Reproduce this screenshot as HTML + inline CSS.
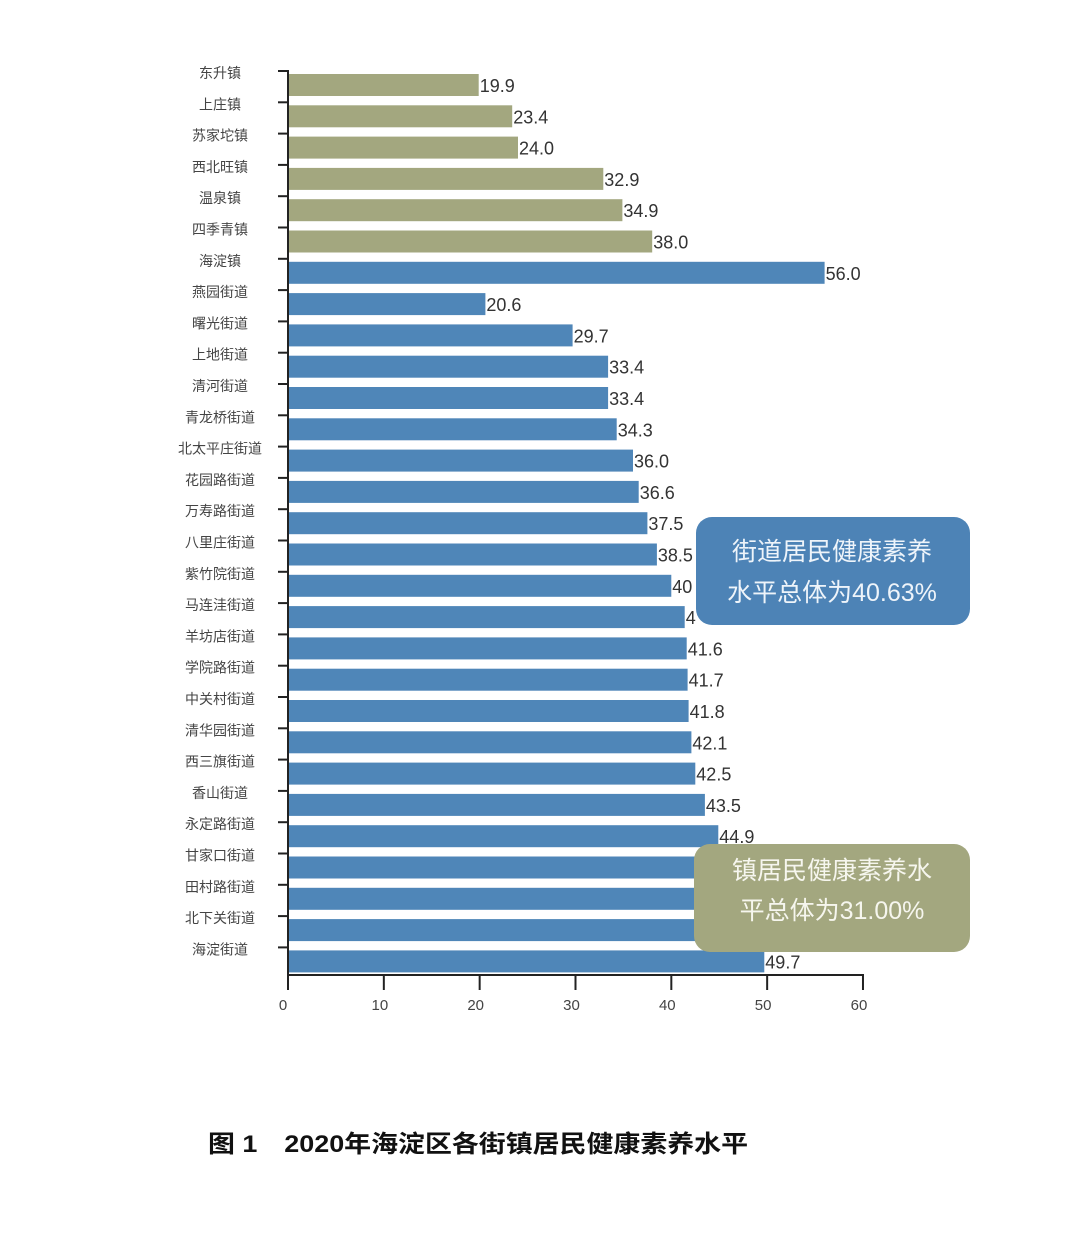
<!DOCTYPE html>
<html><head><meta charset="utf-8"><style>
html,body{margin:0;padding:0;background:#fff;}
svg{display:block;}
</style></head><body>
<svg width="1078" height="1246" viewBox="0 0 1078 1246" xmlns="http://www.w3.org/2000/svg">
<rect width="1078" height="1246" fill="#ffffff"/>
<g id="bars"></g>
<script>
</script>
<g font-family="Liberation Sans, Noto Sans CJK SC, sans-serif">
<!--BARS-->
</g>
</svg>
<script>
var names=["东升镇","上庄镇","苏家坨镇","西北旺镇","温泉镇","四季青镇","海淀镇","燕园街道","曙光街道","上地街道","清河街道","青龙桥街道","北太平庄街道","花园路街道","万寿路街道","八里庄街道","紫竹院街道","马连洼街道","羊坊店街道","学院路街道","中关村街道","清华园街道","西三旗街道","香山街道","永定路街道","甘家口街道","田村路街道","北下关街道","海淀街道"];
var vals=[19.9,23.4,24.0,32.9,34.9,38.0,56.0,20.6,29.7,33.4,33.4,34.3,36.0,36.6,37.5,38.5,40.0,41.4,41.6,41.7,41.8,42.1,42.5,43.5,44.9,45.5,46.6,47.8,49.7];
var labs=["19.9","23.4","24.0","32.9","34.9","38.0","56.0","20.6","29.7","33.4","33.4","34.3","36.0","36.6","37.5","38.5","40","4","41.6","41.7","41.8","42.1","42.5","43.5","44.9","","","","49.7"];
var s='';
for(var i=0;i<29;i++){
 var y=74+31.3*i, w=vals[i]*9.583, c=i<6?'#a3a77f':'#4f86b8';
 s+='<rect x="288" y="'+y.toFixed(1)+'" width="'+w.toFixed(1)+'" height="22" fill="'+c+'"/>';
 s+='<line x1="278" x2="288" y1="'+(71+31.3*i).toFixed(1)+'" y2="'+(71+31.3*i).toFixed(1)+'" stroke="#222" stroke-width="2"/>';
 s+='<text x="220" y="'+(78+31.3*i).toFixed(1)+'" font-size="14" fill="#444" text-anchor="middle">'+names[i]+'</text>';
 if(labs[i]) s+='<text x="'+(289+w).toFixed(1)+'" y="'+(y+18).toFixed(1)+'" font-size="18" fill="#333">'+labs[i]+'</text>';
}
s+='<line x1="288" x2="288" y1="70" y2="976" stroke="#222" stroke-width="2"/>';
s+='<line x1="287" x2="864" y1="975" y2="975" stroke="#222" stroke-width="2"/>';
for(var k=0;k<=6;k++){var x=288+k*95.83;
 s+='<line x1="'+x+'" x2="'+x+'" y1="975" y2="990" stroke="#222" stroke-width="2"/>';
 s+='<text x="'+(k==0?283:x-4)+'" y="1010" font-size="15" fill="#444" text-anchor="middle">'+(k*10)+'</text>';}
s+='<rect x="696" y="517" width="274" height="108" rx="16" fill="#4d83b6"/>';
s+='<text x="832" y="560" font-size="25" fill="#eef4fa" text-anchor="middle">街道居民健康素养</text>';
s+='<text x="832" y="601" font-size="25" fill="#eef4fa" text-anchor="middle">水平总体为40.63%</text>';
s+='<rect x="694" y="844" width="276" height="108" rx="16" fill="#a3a77f"/>';
s+='<text x="832" y="879" font-size="25" fill="#f6f6ee" text-anchor="middle">镇居民健康素养水</text>';
s+='<text x="832" y="919" font-size="25" fill="#f6f6ee" text-anchor="middle">平总体为31.00%</text>';
s+='<text x="208" y="1152" font-size="24" font-weight="bold" fill="#111" textLength="540" lengthAdjust="spacingAndGlyphs">图 1　2020年海淀区各街镇居民健康素养水平</text>';
document.querySelector('svg g[font-family]').innerHTML=s;
</script>
</body></html>
